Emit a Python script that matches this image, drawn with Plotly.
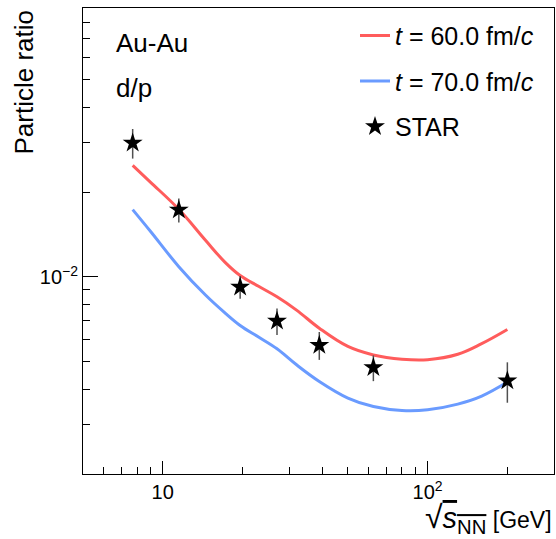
import plotly.graph_objects as go

# ---- data ----
star_x = [7.7, 11.5, 19.6, 27, 39, 62.4, 200]
star_y = [0.0299, 0.0173, 0.00922, 0.00698, 0.00573, 0.00477, 0.00428]
star_err = [0.0036, 0.0017, 0.00085, 0.00075, 0.00065, 0.0005, 0.0007]

curve_x = [7.7, 9, 11.5, 14.5, 17.2, 19.6, 23, 27, 32, 39, 50, 62.4, 80, 100, 130, 160, 200]
red_y = [0.02489, 0.02167, 0.01738, 0.01349, 0.01127, 0.01012, 0.00927, 0.00851, 0.00763,
         0.00658, 0.00567, 0.00529, 0.00511, 0.00509, 0.00532, 0.00580, 0.00651]
blue_y = [0.01734, 0.01450, 0.01088, 0.00863, 0.00745, 0.00673, 0.00612, 0.00556, 0.00488,
          0.00426, 0.00372, 0.00347, 0.00336, 0.00338, 0.00354, 0.00378, 0.00424]

x_major = [10, 100]
x_major_text = ["10", "10<sup>2</sup>"]
x_minor = [6, 7, 8, 9, 20, 30, 40, 50, 60, 70, 80, 90, 200]
y_major = [0.01]
y_major_text = ["10<sup>\u22122</sup>"]
y_minor = [0.003, 0.004, 0.005, 0.006, 0.007, 0.008, 0.009,
           0.02, 0.03, 0.04, 0.05, 0.06, 0.07, 0.08]

FONT = "Liberation Sans, Arial, sans-serif"
RED = "#ff5c5c"
BLUE = "#6a9bff"

fig = go.Figure()
fig.add_trace(go.Scatter(x=curve_x, y=red_y, mode="lines",
                         line=dict(color=RED, width=3, shape="spline", smoothing=1.1),
                         name="<i>t</i> = 60.0 fm/<i>c</i>", legendgroup="a"))
fig.add_trace(go.Scatter(x=curve_x, y=blue_y, mode="lines",
                         line=dict(color=BLUE, width=3, shape="spline", smoothing=1.1),
                         name="<i>t</i> = 70.0 fm/<i>c</i>", legendgroup="b"))
fig.add_trace(go.Scatter(x=star_x, y=star_y, mode="markers",
                         marker=dict(symbol="star", size=15, color="black", line=dict(width=0)),
                         error_y=dict(type="data", array=star_err, color="#505050", thickness=1.5, width=0),
                         name="STAR", legendgroup="c"))

fig.update_layout(
    width=556, height=539,
    margin=dict(l=83, r=2, t=8, b=65),
    paper_bgcolor="white", plot_bgcolor="white",
    font=dict(family=FONT, color="black", size=20),
    showlegend=True,
    legend=dict(x=(355 - 83) / 471, xanchor="left", y=0.99, yanchor="top",
                font=dict(size=25, family=FONT), bgcolor="rgba(0,0,0,0)",
                tracegroupgap=10, itemwidth=30),
    xaxis=dict(type="log", range=[0.69897, 2.47712], showline=True, linecolor="black", linewidth=1,
               mirror=True, showgrid=False, zeroline=False,
               tickmode="array", tickvals=x_major, ticktext=x_major_text,
               ticks="inside", ticklen=13, tickcolor="black", tickfont=dict(size=20),
               minor=dict(tickmode="array", tickvals=x_minor, ticks="inside", ticklen=7,
                          tickcolor="black", showgrid=False)),
    yaxis=dict(type="log", range=[-2.69897, -1.04576], showline=True, linecolor="black", linewidth=1,
               mirror=True, showgrid=False, zeroline=False,
               tickmode="array", tickvals=y_major, ticktext=y_major_text,
               ticks="inside", ticklen=15, tickcolor="black", tickfont=dict(size=20),
               minor=dict(tickmode="array", tickvals=y_minor, ticks="inside", ticklen=7,
                          tickcolor="black", showgrid=False)),
)

fig.add_annotation(text="Au-Au", xref="paper", yref="paper", x=(114 - 83) / 471, y=(474 - 43) / 466,
                   xanchor="left", yanchor="middle", showarrow=False, font=dict(size=26))
fig.add_annotation(text="d/p", xref="paper", yref="paper", x=(114 - 83) / 471, y=(474 - 88) / 466,
                   xanchor="left", yanchor="middle", showarrow=False, font=dict(size=26))
fig.add_annotation(text="Particle ratio", xref="paper", yref="paper", x=-77 / 471, y=1.0,
                   xanchor="left", yanchor="top", textangle=-90, showarrow=False, font=dict(size=26))
fig.add_annotation(
    text="<span style='font-size:32px'>\u221A</span>"
         "<span style='text-decoration:overline'><span style='font-size:29px'><i>s</i>"
         "<sub>NN</sub></span></span> [GeV]",
    xref="paper", yref="paper", x=1.0, y=-66 / 466,
    xanchor="right", yanchor="bottom", showarrow=False, font=dict(size=23))

fig.write_html("out.html")
